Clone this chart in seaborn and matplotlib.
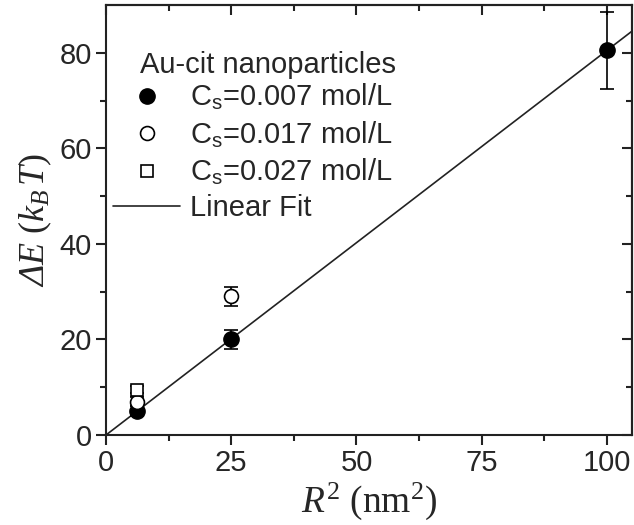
import matplotlib
matplotlib.use("Agg")
import matplotlib.pyplot as plt
import seaborn as sns
import numpy as np
from matplotlib.lines import Line2D

# data
x_007 = [6.25, 25, 100]
y_007 = [5.0, 20.0, 80.5]
e_007 = [1.0, 2.0, 8.0]
x_017 = [6.25, 25]
y_017 = [7.0, 29.0]
e_017 = [1.0, 2.0]
x_027 = [6.25]
y_027 = [9.5]
e_027 = [0.8]
fit_x = [0, 105]
fit_slope = 0.805
legend_title = "Au-cit nanoparticles"
labels = [r"C$_\mathregular{s}$=0.007 mol/L", r"C$_\mathregular{s}$=0.017 mol/L",
          r"C$_\mathregular{s}$=0.027 mol/L", "Linear Fit"]

sns.set_style("ticks")
plt.rcParams['font.family'] = ['Liberation Sans', 'DejaVu Sans']
plt.rcParams['mathtext.fontset'] = 'custom'
plt.rcParams['mathtext.rm'] = 'Liberation Serif'
plt.rcParams['mathtext.it'] = 'Liberation Serif:italic'
plt.rcParams['mathtext.sf'] = 'Liberation Serif:italic'
plt.rcParams['mathtext.bf'] = 'Liberation Serif:bold'

fig = plt.figure(figsize=(6.34, 5.25), dpi=100)
ax = fig.add_axes([106/634, 90/525, (632-106)/634, (435-5)/525])

fy = [fit_slope * v for v in fit_x]
sns.lineplot(x=fit_x, y=fy, ax=ax, color='#222222', lw=1.2)

ms = 11
ax.errorbar(x_007, y_007, yerr=e_007, fmt='o', color='black', mfc='black', mec='black',
            ms=ms, capsize=5, elinewidth=1.2, capthick=1.2, zorder=3)
ax.errorbar(x_017, y_017, yerr=e_017, fmt='o', color='black', mfc='white', mec='black',
            ms=ms - 1, mew=1.2, capsize=5, elinewidth=1.2, capthick=1.2, zorder=3)
ax.errorbar(x_027, y_027, yerr=e_027, fmt='s', color='black', mfc='white', mec='black',
            ms=ms - 2, mew=1.2, capsize=5, elinewidth=1.2, capthick=1.2, zorder=3)

ax.set_xlim(0, 105)
ax.set_ylim(0, 90)
xmaj = [0, 25, 50, 75, 100]
ymaj = [0, 20, 40, 60, 80]
xmin = np.arange(12.5, 105, 25)
ymin = np.arange(10, 90, 20)
ax.set_xticks(xmaj)
ax.set_yticks(ymaj)
ax.set_xticks(xmin, minor=True)
ax.set_yticks(ymin, minor=True)
for s in ax.spines.values():
    s.set_visible(True)
    s.set_linewidth(1.5)
    s.set_color('#222222')
ax.tick_params(which='both', direction='out', width=1.5, color='#222222',
               labelsize=21, top=False, right=False)
ax.tick_params(which='major', length=7, pad=3)
ax.tick_params(which='minor', length=4)

# mirrored inward ticks on top and right
secx = ax.secondary_xaxis('top')
secx.set_xticks(xmaj)
secx.set_xticks(xmin, minor=True)
secx.tick_params(which='both', direction='in', width=1.5, color='#222222', labeltop=False)
secx.tick_params(which='major', length=7)
secx.tick_params(which='minor', length=4)
secx.spines['top'].set_linewidth(1.5)
secy = ax.secondary_yaxis('right')
secy.set_yticks(ymaj)
secy.set_yticks(ymin, minor=True)
secy.tick_params(which='both', direction='in', width=1.5, color='#222222', labelright=False)
secy.tick_params(which='major', length=7)
secy.tick_params(which='minor', length=4)
secy.spines['right'].set_linewidth(1.5)

ax.set_xlabel(r"$R^2\ \mathrm{(nm^2)}$", fontsize=27, labelpad=3)
ax.set_ylabel(r"$\mathsf{\Delta E}\ \mathrm{(}k_B\,T\mathrm{)}$", fontsize=26, labelpad=4)

handles = [
    Line2D([], [], ls='none', marker='o', ms=ms, color='black', mfc='black'),
    Line2D([], [], ls='none', marker='o', ms=ms - 1, color='black', mfc='white', mew=1.2),
    Line2D([], [], ls='none', marker='s', ms=ms - 2, color='black', mfc='white', mew=1.2),
    Line2D([], [], color='#222222', lw=1.2),
]
ax.text((140 - 106) / 526, (435 - 65) / 430, legend_title, transform=ax.transAxes,
        fontsize=21, va='center', ha='left')
leg = ax.legend(handles, labels, loc='upper left',
                bbox_to_anchor=(7 / 526, (435 - 82) / 430), frameon=False, fontsize=21,
                handlelength=2.3, handletextpad=0.35, labelspacing=0.25,
                borderaxespad=0, borderpad=0)

fig.savefig("out.png", dpi=100)
